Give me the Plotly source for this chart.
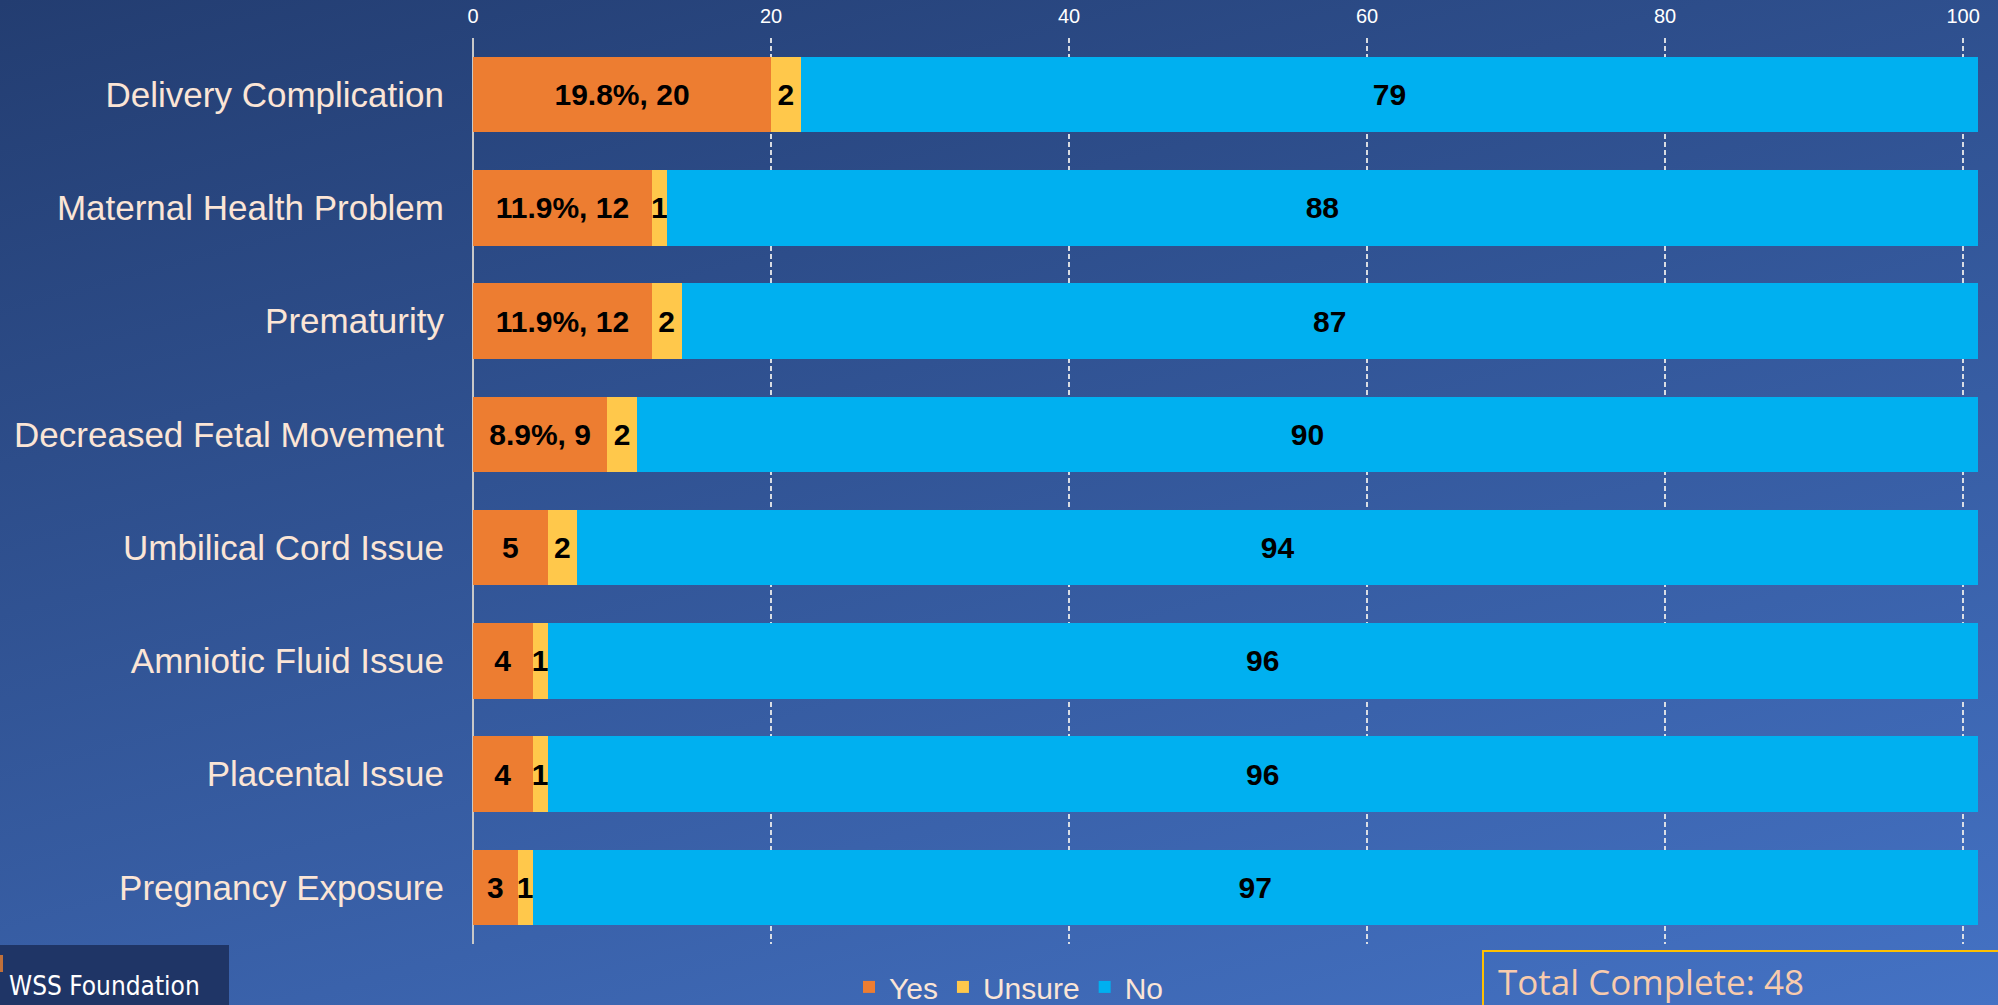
import base64
import plotly.graph_objects as go

# ---------------- data ----------------
categories = [
    "Delivery Complication",
    "Maternal Health Problem",
    "Prematurity",
    "Decreased Fetal Movement",
    "Umbilical Cord Issue",
    "Amniotic Fluid Issue",
    "Placental Issue",
    "Pregnancy Exposure",
]
yes_vals = [20, 12, 12, 9, 5, 4, 4, 3]
unsure_vals = [2, 1, 2, 2, 2, 1, 1, 1]
no_vals = [79, 88, 87, 90, 94, 96, 96, 97]
yes_labels = ["19.8%, 20", "11.9%, 12", "11.9%, 12", "8.9%, 9", "5", "4", "4", "3"]
x_ticks = [0, 20, 40, 60, 80, 100]
total_complete_text = "Total Complete: 48"
logo_text = "WSS Foundation"

# ---------------- styling ----------------
W, H = 1998, 1005
ML, MR, MT, MB = 473, 20, 38, 61
PW = W - ML - MR
PH = H - MT - MB

C_YES = "#ED7D31"
C_UNSURE = "#FFC84B"
C_NO = "#00B0F0"
TXT = "#FBE5D6"


def px_x(px):
    return (px - ML) / PW


def px_y(py):
    return (H - MB - py) / PH


svg = (
    '<svg xmlns="http://www.w3.org/2000/svg" width="1000" height="500" '
    'preserveAspectRatio="none" viewBox="0 0 1000 500">'
    '<defs><linearGradient id="g" x1="0" y1="0" x2="0.642" y2="1.193">'
    '<stop offset="0" stop-color="#233D71"/>'
    '<stop offset="1" stop-color="#4472C4"/>'
    '</linearGradient></defs>'
    '<rect x="0" y="0" width="1000" height="500" fill="url(#g)"/></svg>'
)
bg_src = "data:image/svg+xml;base64," + base64.b64encode(svg.encode()).decode()

bar_font = dict(family="Liberation Sans, Arial", size=30, color="black", weight="bold")

fig = go.Figure()
for name, vals, labels, color in [
    ("Yes", yes_vals, yes_labels, C_YES),
    ("Unsure", unsure_vals, [str(v) for v in unsure_vals], C_UNSURE),
    ("No", no_vals, [str(v) for v in no_vals], C_NO),
]:
    fig.add_trace(
        go.Bar(
            name=name,
            y=categories,
            x=vals,
            orientation="h",
            marker=dict(color=color, line=dict(width=0)),
            text=labels,
            textposition="inside",
            insidetextanchor="middle",
            textangle=0,
            constraintext="none",
            textfont=bar_font,
            hoverinfo="skip",
        )
    )

fig.update_layout(
    width=W,
    height=H,
    barmode="stack",
    bargap=0.334,
    margin=dict(l=ML, r=MR, t=MT, b=MB, pad=0, autoexpand=False),
    paper_bgcolor="#2A4880",
    plot_bgcolor="rgba(0,0,0,0)",
    uniformtext=dict(minsize=30, mode="show"),
    font=dict(family="Liberation Sans, Arial", color=TXT),
    legend=dict(
        orientation="h",
        xref="container",
        yref="container",
        x=0.505,
        xanchor="center",
        y=0.018,
        yanchor="middle",
        font=dict(size=30, color=TXT),
        bgcolor="rgba(0,0,0,0)",
        itemsizing="constant",
        traceorder="normal",
    ),
    images=[
        dict(
            source=bg_src,
            xref="paper",
            yref="paper",
            x=px_x(0),
            y=px_y(0),
            sizex=px_x(W) - px_x(0),
            sizey=px_y(0) - px_y(H),
            xanchor="left",
            yanchor="top",
            sizing="stretch",
            layer="below",
        )
    ],
    shapes=[
        # logo block
        dict(
            type="rect", xref="paper", yref="paper",
            x0=px_x(-5), x1=px_x(229), y0=px_y(945), y1=px_y(1015),
            fillcolor="#1F3566", line=dict(width=0), layer="above",
        ),
        dict(
            type="rect", xref="paper", yref="paper",
            x0=px_x(-5), x1=px_x(3), y0=px_y(955), y1=px_y(972),
            fillcolor="#C0703A", line=dict(width=0), layer="above",
        ),
        # total complete box
        dict(
            type="rect", xref="paper", yref="paper",
            x0=px_x(1483), x1=px_x(2030), y0=px_y(951), y1=px_y(1040),
            fillcolor="rgba(0,0,0,0)", line=dict(color="#FFC000", width=2),
            layer="above",
        ),
    ],
    annotations=[
        dict(
            text=total_complete_text, xref="paper", yref="paper",
            x=px_x(1497), y=px_y(981), xanchor="left", yanchor="middle",
            showarrow=False, borderpad=0,
            font=dict(family="Open Sans", size=35, color="#F8CBAD"),
        ),
        dict(
            text=logo_text, xref="paper", yref="paper",
            x=px_x(8), y=px_y(986), xanchor="left", yanchor="middle",
            showarrow=False, borderpad=0,
            font=dict(family="DejaVu Sans Condensed, Liberation Sans Narrow", size=26, color="white"),
        ),
    ],
)

fig.update_xaxes(
    side="top",
    range=[0, 101],
    tickvals=x_ticks,
    ticktext=[str(t) for t in x_ticks],
    showgrid=True,
    gridcolor="rgba(235,235,235,0.9)",
    gridwidth=1.5,
    griddash="5px,3px",
    zeroline=True,
    zerolinecolor="#C8C8C8",
    zerolinewidth=2,
    showline=False,
    ticks="",
    ticklabelstandoff=10,
    automargin=False,
    tickfont=dict(family="Liberation Sans Narrow, Liberation Sans, Arial", size=20, color="white"),
    fixedrange=True,
)
fig.update_yaxes(
    categoryorder="array",
    categoryarray=categories,
    autorange="reversed",
    showgrid=False,
    zeroline=False,
    showline=False,
    ticks="",
    ticklabelstandoff=28,
    automargin=False,
    tickfont=dict(family="Liberation Sans, Arial", size=35, color=TXT),
    fixedrange=True,
)

fig.write_html(
    "out.html",
    config={"displayModeBar": False, "staticPlot": False},
    post_script="document.body.style.margin='0';document.body.style.overflow='hidden';",
)
